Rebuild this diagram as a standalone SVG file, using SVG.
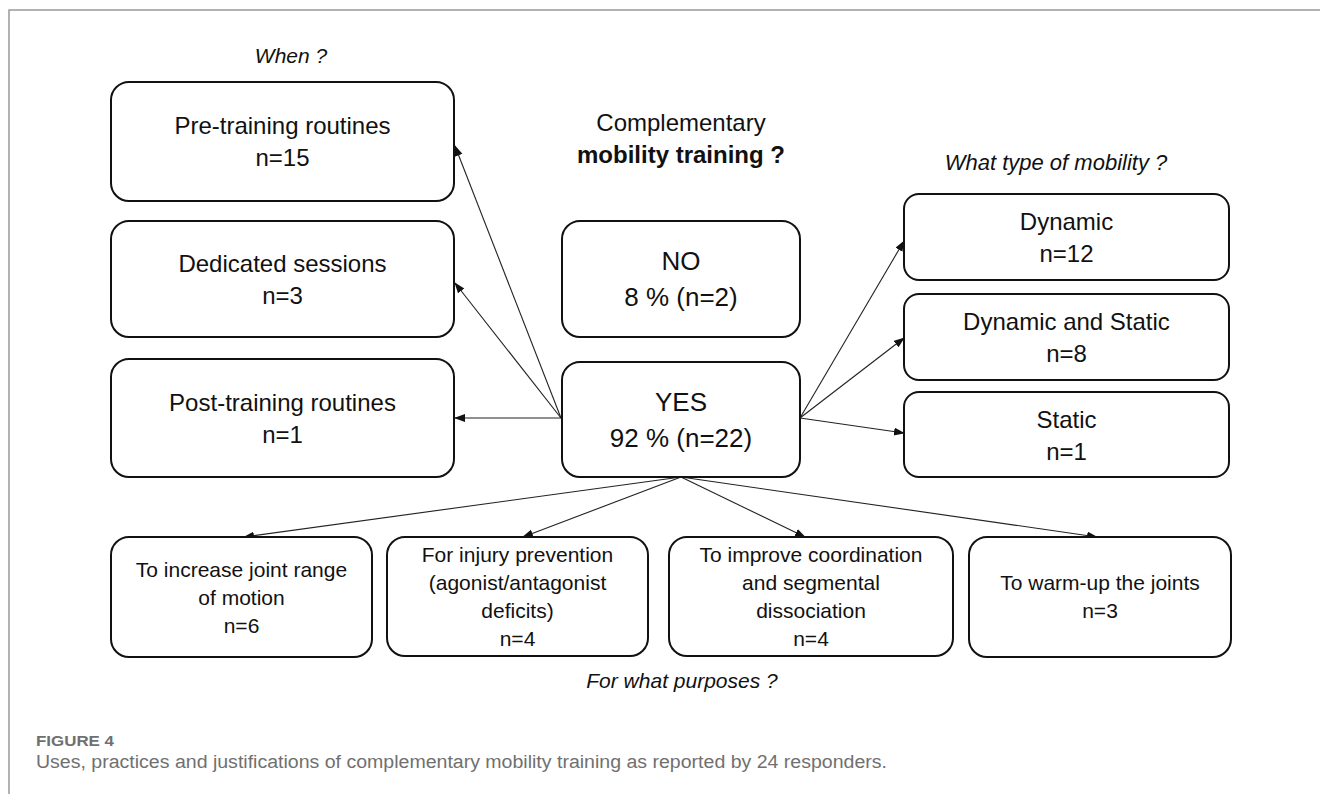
<svg xmlns="http://www.w3.org/2000/svg" width="1320" height="794" viewBox="0 0 1320 794">
<defs>
<marker id="ah" markerWidth="11" markerHeight="9" refX="10" refY="4" orient="auto" markerUnits="userSpaceOnUse">
<path d="M0,0 L11,4 L0,8 z" fill="#111"/>
</marker>
<style>
.box{fill:#fff;stroke:#111;stroke-width:2}
.t{font-family:"Liberation Sans",Arial,sans-serif;fill:#111;text-anchor:middle}
.m{font-size:24px}
.s{font-size:21px}
.b{font-size:26px}
.i{font-style:italic}
.c{stroke:#222;stroke-width:1.1;fill:none;marker-end:url(#ah)}
.cap{font-family:"Liberation Sans",Arial,sans-serif;fill:#707070}
</style>
</defs>
<rect width="1320" height="794" fill="#fff"/>
<path d="M1320,10 H9 V794" fill="none" stroke="#999" stroke-width="1.5"/>

<text class="t i" x="291" y="63" font-size="21">When ?</text>
<text class="t m" x="681" y="131">Complementary</text>
<text class="t m" x="681" y="163" font-weight="bold">mobility training ?</text>
<text class="t i" x="1056" y="170" font-size="22">What type of mobility ?</text>
<text class="t i" x="682" y="688" font-size="21">For what purposes ?</text>

<g id="connectors">
<line class="c" x1="561" y1="418" x2="455" y2="146"/>
<line class="c" x1="561" y1="418" x2="455" y2="283"/>
<line class="c" x1="561" y1="418" x2="455" y2="418"/>
<line class="c" x1="800" y1="418" x2="904" y2="241"/>
<line class="c" x1="800" y1="418" x2="904" y2="338"/>
<line class="c" x1="800" y1="418" x2="904" y2="433"/>
<line class="c" x1="681" y1="477" x2="244" y2="537"/>
<line class="c" x1="681" y1="477" x2="523" y2="537"/>
<line class="c" x1="681" y1="477" x2="805" y2="537"/>
<line class="c" x1="681" y1="477" x2="1097" y2="537"/>
</g>

<g id="pre">
<rect class="box" x="111" y="82" width="343" height="119" rx="18"/>
<text class="t m" x="282.5" y="134">Pre-training routines</text>
<text class="t m" x="282.5" y="166">n=15</text>
</g>
<g id="dedicated">
<rect class="box" x="111" y="221" width="343" height="116" rx="18"/>
<text class="t m" x="282.5" y="272">Dedicated sessions</text>
<text class="t m" x="282.5" y="304">n=3</text>
</g>
<g id="post">
<rect class="box" x="111" y="359" width="343" height="118" rx="18"/>
<text class="t m" x="282.5" y="411">Post-training routines</text>
<text class="t m" x="282.5" y="443">n=1</text>
</g>
<g id="no">
<rect class="box" x="562" y="221" width="238" height="116" rx="18"/>
<text class="t b" x="681" y="270">NO</text>
<text class="t b" x="681" y="306">8 % (n=2)</text>
</g>
<g id="yes">
<rect class="box" x="562" y="362" width="238" height="115" rx="18"/>
<text class="t b" x="681" y="411">YES</text>
<text class="t b" x="681" y="447">92 % (n=22)</text>
</g>
<g id="dynamic">
<rect class="box" x="904" y="194" width="325" height="86" rx="15"/>
<text class="t m" x="1066.5" y="230">Dynamic</text>
<text class="t m" x="1066.5" y="262">n=12</text>
</g>
<g id="dynstatic">
<rect class="box" x="904" y="294" width="325" height="86" rx="15"/>
<text class="t m" x="1066.5" y="330">Dynamic and Static</text>
<text class="t m" x="1066.5" y="362">n=8</text>
</g>
<g id="static">
<rect class="box" x="904" y="392" width="325" height="85" rx="15"/>
<text class="t m" x="1066.5" y="428">Static</text>
<text class="t m" x="1066.5" y="460">n=1</text>
</g>
<g id="rom">
<rect class="box" x="111" y="537" width="261" height="120" rx="18"/>
<text class="t s" x="241.5" y="577">To increase joint range</text>
<text class="t s" x="241.5" y="605">of motion</text>
<text class="t s" x="241.5" y="633">n=6</text>
</g>
<g id="injury">
<rect class="box" x="387" y="537" width="261" height="119" rx="18"/>
<text class="t s" x="517.5" y="562">For injury prevention</text>
<text class="t s" x="517.5" y="590">(agonist/antagonist</text>
<text class="t s" x="517.5" y="618">deficits)</text>
<text class="t s" x="517.5" y="646">n=4</text>
</g>
<g id="coord">
<rect class="box" x="669" y="537" width="284" height="119" rx="18"/>
<text class="t s" x="811" y="562">To improve coordination</text>
<text class="t s" x="811" y="590">and segmental</text>
<text class="t s" x="811" y="618">dissociation</text>
<text class="t s" x="811" y="646">n=4</text>
</g>
<g id="warmup">
<rect class="box" x="969" y="537" width="262" height="120" rx="18"/>
<text class="t s" x="1100" y="590">To warm-up the joints</text>
<text class="t s" x="1100" y="618">n=3</text>
</g>

<text class="cap" x="36" y="746" font-size="14" font-weight="bold" textLength="78" lengthAdjust="spacingAndGlyphs">FIGURE 4</text>
<text class="cap" x="36" y="768" font-size="18" textLength="851" lengthAdjust="spacingAndGlyphs">Uses, practices and justifications of complementary mobility training as reported by 24 responders.</text>
</svg>
